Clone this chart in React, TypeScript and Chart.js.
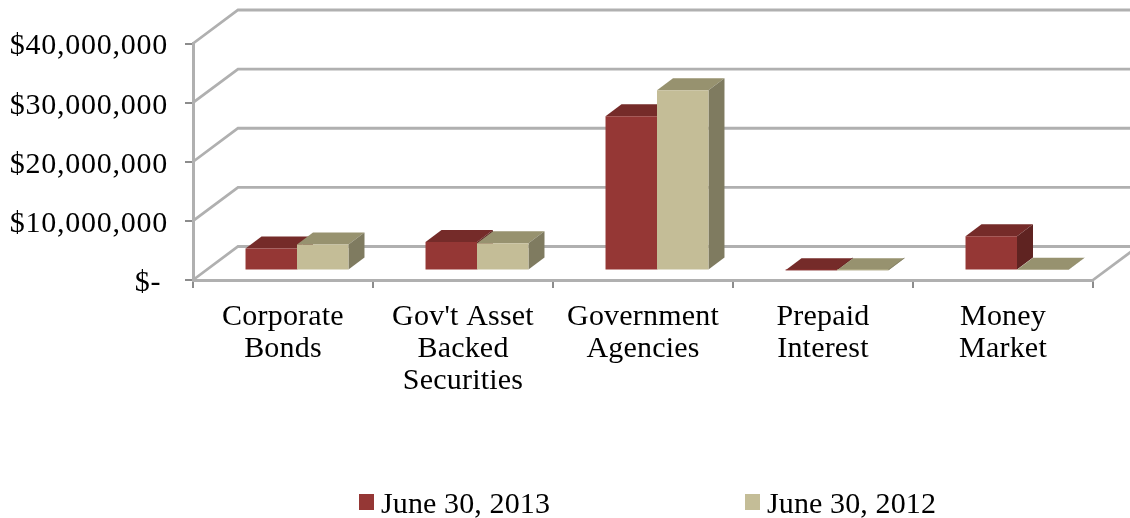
import React, { useEffect, useRef } from "react";
import { Chart, registerables } from "chart.js";

Chart.register(...registerables);

const categories = [
  "Corporate|Bonds",
  "Gov't Asset|Backed|Securities",
  "Government|Agencies",
  "Prepaid|Interest",
  "Money|Market",
];
const june2013 = [3700000, 4800000, 26100000, 60000, 5800000];
const june2012 = [4400000, 4600000, 30500000, 40000, 120000];
const seriesNames = ["June 30, 2013", "June 30, 2012"];
const yTicks = [0, 10000000, 20000000, 30000000, 40000000];

const SERIF = "'Liberation Serif', 'Times New Roman', serif";
const GRID = "#b0b0b0";
const TICK = "#8c8c8c";
const WALL_DX = 45;
const WALL_DY = -33.5;
const BAR_DX = 14;
const BAR_DY = -9.5;
const DEPTH_DX = 16;
const DEPTH_DY = -12;

const faces = [
  { front: "#953735", top: "#752b29", side: "#5f2321" },
  { front: "#c4bd97", top: "#97926f", side: "#7f7b60" },
];
const legendSwatchX = [359, 745];
const legendTextX = [381, 767];

function fmtMoney(v: number) {
  if (v === 0) return "$-\u2009";
  return "$" + v.toLocaleString("en-US");
}

function poly(ctx: CanvasRenderingContext2D, pts: number[][], fill: string) {
  ctx.fillStyle = fill;
  ctx.beginPath();
  pts.forEach(([x, y], i) => (i ? ctx.lineTo(x, y) : ctx.moveTo(x, y)));
  ctx.closePath();
  ctx.fill();
}

// Back wall, side wall and floor lines of the box behind the columns.
const wallPlugin = {
  id: "walls",
  beforeDatasetsDraw(chart: any) {
    const { ctx, chartArea, scales } = chart;
    ctx.save();
    ctx.strokeStyle = GRID;
    ctx.lineWidth = 2.8;
    yTicks.forEach((t) => {
      const y = scales.y.getPixelForValue(t);
      ctx.beginPath();
      ctx.moveTo(chartArea.left, y);
      ctx.lineTo(chartArea.left + WALL_DX, y + WALL_DY);
      ctx.lineTo(chartArea.right + WALL_DX, y + WALL_DY);
      ctx.stroke();
    });
    const floor = scales.y.getPixelForValue(0);
    ctx.beginPath();
    ctx.moveTo(chartArea.right, floor);
    ctx.lineTo(chartArea.right + WALL_DX, floor + WALL_DY);
    ctx.stroke();
    ctx.restore();
  },
};

// Columns get a top and side face and are painted left to right so that
// each one covers the side of its neighbour.
const columnPlugin = {
  id: "columns",
  beforeDatasetDraw() {
    return false;
  },
  afterDatasetsDraw(chart: any) {
    const { ctx } = chart;
    ctx.save();
    ctx.translate(BAR_DX, BAR_DY);
    chart.data.datasets.forEach((_: any, di: number) => {
      const meta = chart.getDatasetMeta(di);
      const c = faces[di];
      meta.data.forEach((bar: any) => {
        const { x, y, base, width } = bar.getProps(["x", "y", "base", "width"], true);
        const l = x - width / 2;
        const r = x + width / 2;
        poly(ctx, [[l, y], [r, y], [r + DEPTH_DX, y + DEPTH_DY], [l + DEPTH_DX, y + DEPTH_DY]], c.top);
        poly(ctx, [[r, y], [r, base], [r + DEPTH_DX, base + DEPTH_DY], [r + DEPTH_DX, y + DEPTH_DY]], c.side);
        bar.draw(ctx);
      });
    });
    ctx.restore();
  },
};

// Two-entry key along the bottom edge.
const keyPlugin = {
  id: "key",
  afterDraw(chart: any) {
    const { ctx } = chart;
    ctx.save();
    ctx.font = `30px ${SERIF}`;
    (ctx as any).letterSpacing = "0.12px";
    ctx.textBaseline = "alphabetic";
    ctx.textAlign = "left";
    seriesNames.forEach((name, i) => {
      ctx.fillStyle = faces[i].front;
      ctx.fillRect(legendSwatchX[i], 494, 15, 16);
      ctx.fillStyle = "#000";
      ctx.fillText(name, legendTextX[i], 513);
    });
    ctx.restore();
  },
};

// Per-axis character spacing for the tick labels.
function spaceLabels(scale: any, spacing: string) {
  if (scale.__spaced) return;
  scale.__spaced = true;
  const drawLabels = scale.drawLabels;
  scale.drawLabels = function (area: any) {
    const c = this.ctx;
    c.letterSpacing = spacing;
    drawLabels.call(this, area);
    c.letterSpacing = "0px";
  };
}

export default function App() {
  const ref = useRef<HTMLCanvasElement>(null);
  useEffect(() => {
    const chart = new Chart(ref.current!, {
      type: "bar",
      data: {
        labels: categories.map((c) => c.split("|")),
        datasets: [
          { label: seriesNames[0], data: june2013, backgroundColor: faces[0].front, borderWidth: 0 },
          { label: seriesNames[1], data: june2012, backgroundColor: faces[1].front, borderWidth: 0 },
        ],
      },
      options: {
        responsive: false,
        animation: false,
        layout: { padding: { top: 43.5, right: 37, left: 0, bottom: 0 } },
        plugins: { legend: { display: false }, title: { display: false }, tooltip: { enabled: false } },
        datasets: { bar: { categoryPercentage: 0.572, barPercentage: 1 } },
        scales: {
          x: {
            afterFit: (s: any) => {
              s.height = 238;
            },
            afterUpdate: (s: any) => spaceLabels(s, "0.2px"),
            grid: { offset: true, drawOnChartArea: false, drawTicks: true, tickLength: 8, color: TICK, lineWidth: 2 },
            border: { color: GRID, width: 3 },
            ticks: {
              autoSkip: false,
              maxRotation: 0,
              color: "#000",
              padding: 13,
              font: { family: SERIF, size: 30, lineHeight: "32px" },
            },
          },
          y: {
            min: 0,
            max: 40000000,
            afterFit: (s: any) => {
              s.width = 193;
            },
            afterUpdate: (s: any) => spaceLabels(s, "0.75px"),
            afterBuildTicks: (s: any) => {
              s.ticks = yTicks.map((value) => ({ value }));
            },
            grid: { drawOnChartArea: false, drawTicks: true, tickLength: 8, color: TICK, lineWidth: 2 },
            border: { color: GRID, width: 3 },
            ticks: {
              color: "#000",
              padding: 17,
              labelOffset: 3,
              font: { family: SERIF, size: 30 },
              callback: (v: any) => fmtMoney(Number(v)),
            },
          },
        },
      },
      plugins: [wallPlugin, columnPlugin, keyPlugin],
    } as any);
    return () => chart.destroy();
  }, []);
  return (
    <canvas
      ref={ref}
      width={1130}
      height={518}
      style={{ position: "fixed", left: 0, top: 0, width: 1130, height: 518, display: "block" }}
    />
  );
}
